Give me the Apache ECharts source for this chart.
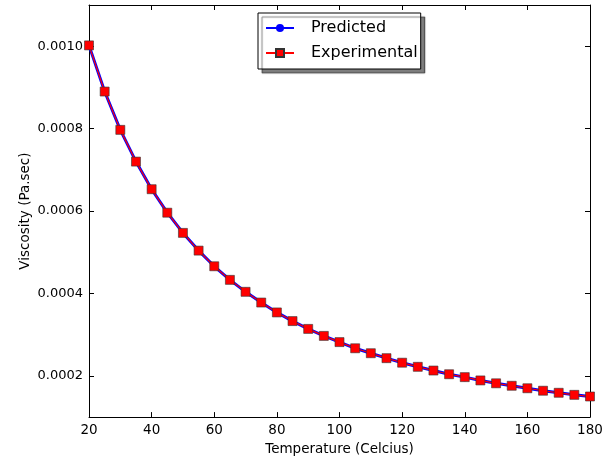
<!DOCTYPE html>
<html>
<head>
<meta charset="utf-8">
<script src="https://cdn.jsdelivr.net/npm/echarts@6/dist/echarts.min.js"></script>
<style>
  html, body { margin: 0; padding: 0; background: #fff; }
  #chart { width: 613px; height: 461px; }
</style>
</head>
<body>
<div id="chart"></div>
<script>
const temps = [20, 25, 30, 35, 40, 45, 50, 55, 60, 65, 70, 75, 80, 85, 90, 95, 100,
  105, 110, 115, 120, 125, 130, 135, 140, 145, 150, 155, 160, 165, 170, 175, 180];
const predicted = [0.001002, 0.000890, 0.000797, 0.000720, 0.000653, 0.000596, 0.000547,
  0.000504, 0.000466, 0.000433, 0.000404, 0.000378, 0.000354, 0.000333, 0.000314,
  0.000297, 0.000282, 0.000267, 0.000255, 0.000243, 0.000232, 0.000222, 0.000213,
  0.000204, 0.000197, 0.000189, 0.000182, 0.000176, 0.000170, 0.000164, 0.000159,
  0.000154, 0.000150];
const experimental = [0.001002, 0.000890, 0.000797, 0.000720, 0.000653, 0.000596, 0.000547,
  0.000504, 0.000466, 0.000433, 0.000404, 0.000378, 0.000354, 0.000333, 0.000314,
  0.000297, 0.000282, 0.000267, 0.000255, 0.000243, 0.000232, 0.000222, 0.000213,
  0.000204, 0.000197, 0.000189, 0.000182, 0.000176, 0.000170, 0.000164, 0.000159,
  0.000154, 0.000150];
const yTicks = [0.0002, 0.0004, 0.0006, 0.0008, 0.0010];

const font = "DejaVu Sans";
const chart = echarts.init(document.getElementById("chart"));

const frame = { show: true, lineStyle: { color: "#000", width: 1 } };
const tick = { show: true, inside: true, length: 5, lineStyle: { color: "#000" } };

chart.setOption({
  animation: false,
  textStyle: { fontFamily: font },
  grid: { left: 89, right: 23, top: 5, bottom: 40 },
  legend: {
    orient: "vertical",
    left: 258,
    top: 13,
    padding: [7, 3, 8, 7],
    itemGap: 9,
    itemWidth: 28,
    itemHeight: 10,
    backgroundColor: "#fff",
    borderColor: "#000",
    borderWidth: 1,
    borderRadius: 0,
    shadowColor: "rgba(0,0,0,0.5)",
    shadowBlur: 1,
    shadowOffsetX: 4,
    shadowOffsetY: 4,
    textStyle: { fontFamily: font, fontSize: 16, color: "#000", padding: [0, 0, 0, 12] },
    data: ["Predicted", "Experimental"]
  },
  xAxis: [
    {
      type: "value", min: 20, max: 180, interval: 20,
      name: "Temperature (Celcius)", nameLocation: "middle", nameGap: 21,
      nameTextStyle: { fontFamily: font, fontSize: 13.5, color: "#000" },
      axisLine: frame, axisTick: tick, splitLine: { show: false },
      axisLabel: { color: "#000", fontSize: 13.5, margin: 6, fontFamily: font }
    },
    {
      type: "value", position: "top", min: 20, max: 180, interval: 20,
      axisLine: frame, axisTick: tick, splitLine: { show: false },
      axisLabel: { show: false }
    }
  ],
  yAxis: [
    {
      type: "value", min: 0.0001, max: 0.0011,
      name: "Viscosity (Pa.sec)", nameLocation: "middle", nameGap: 57,
      nameMoveOverlap: false,
      nameTextStyle: { fontFamily: font, fontSize: 13.5, color: "#000" },
      axisLine: frame,
      axisTick: Object.assign({ customValues: yTicks }, tick),
      splitLine: { show: false },
      axisLabel: {
        customValues: yTicks, color: "#000", fontSize: 13, margin: 6, fontFamily: font,
        formatter: (v) => v.toFixed(4)
      }
    },
    {
      type: "value", position: "right", min: 0.0001, max: 0.0011,
      axisLine: frame,
      axisTick: Object.assign({ customValues: yTicks }, tick),
      splitLine: { show: false },
      axisLabel: { show: false }
    }
  ],
  series: [
    {
      name: "Predicted",
      type: "line",
      data: temps.map((t, i) => [t, predicted[i]]),
      symbol: "circle",
      symbolSize: 8,
      itemStyle: { color: "#0000ff" },
      lineStyle: { color: "#0000ff", width: 3 }
    },
    {
      name: "Experimental",
      type: "line",
      data: temps.map((t, i) => [t, experimental[i]]),
      symbol: "rect",
      symbolSize: 9,
      itemStyle: { color: "#ff0000", borderColor: "#333", borderWidth: 0.6 },
      lineStyle: { color: "#ff0000", width: 1.2 }
    }
  ]
});
</script>
</body>
</html>
